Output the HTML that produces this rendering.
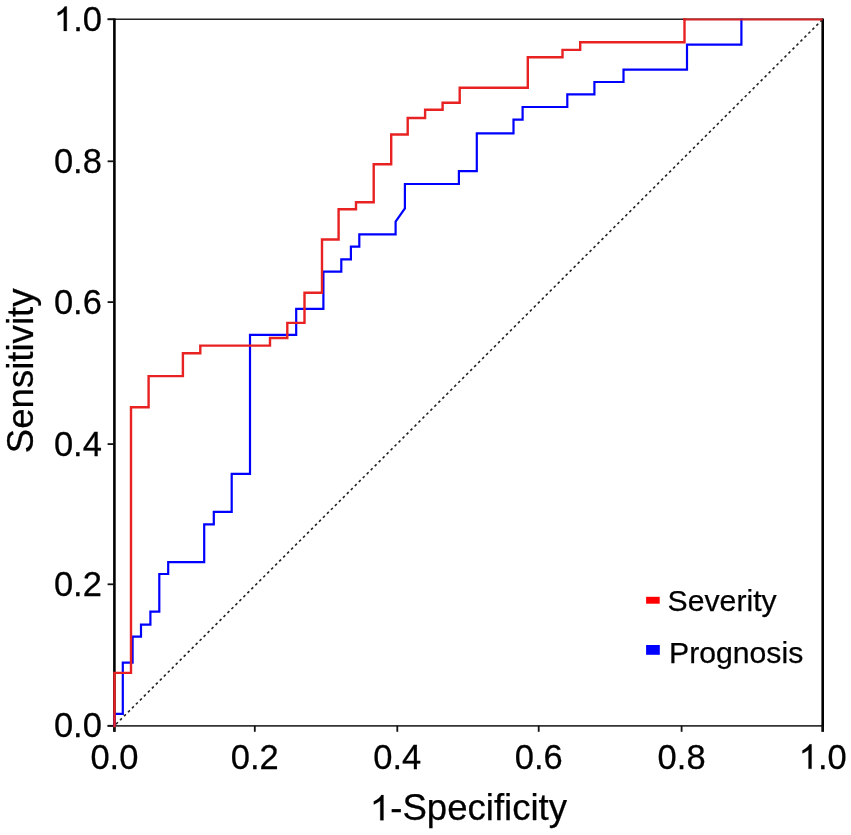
<!DOCTYPE html>
<html><head><meta charset="utf-8"><style>
html,body{margin:0;padding:0;background:#fff;}
svg{display:block;will-change:transform;font-family:"Liberation Sans",sans-serif;fill:#000;}
text{fill:#000;stroke:#000;stroke-width:0.25px;}
path.g1{stroke:#000;stroke-width:0.25px;}
</style></head><body>
<svg width="851" height="835" viewBox="0 0 851 835">
<rect width="851" height="835" fill="#fff"/>
<line x1="107.60000000000001" y1="19.3" x2="822.7" y2="19.3" stroke="#222" stroke-width="1.5"/>
<line x1="107.60000000000001" y1="725.8" x2="822.7" y2="725.8" stroke="#333" stroke-width="1.8"/>
<line x1="114.4" y1="18.6" x2="114.4" y2="731.8" stroke="#000" stroke-width="2.6"/>
<line x1="822.7" y1="18.6" x2="822.7" y2="731.8" stroke="#000" stroke-width="2.6"/>
<line x1="107.60000000000001" y1="725.80" x2="114.4" y2="725.80" stroke="#111" stroke-width="1.8"/>
<line x1="114.40" y1="725.8" x2="114.40" y2="731.8" stroke="#111" stroke-width="1.8"/>
<line x1="107.60000000000001" y1="584.30" x2="114.4" y2="584.30" stroke="#111" stroke-width="1.8"/>
<line x1="254.80" y1="725.8" x2="254.80" y2="731.8" stroke="#111" stroke-width="1.8"/>
<line x1="107.60000000000001" y1="444.10" x2="114.4" y2="444.10" stroke="#111" stroke-width="1.8"/>
<line x1="397.30" y1="725.8" x2="397.30" y2="731.8" stroke="#111" stroke-width="1.8"/>
<line x1="107.60000000000001" y1="302.10" x2="114.4" y2="302.10" stroke="#111" stroke-width="1.8"/>
<line x1="538.70" y1="725.8" x2="538.70" y2="731.8" stroke="#111" stroke-width="1.8"/>
<line x1="107.60000000000001" y1="161.30" x2="114.4" y2="161.30" stroke="#111" stroke-width="1.8"/>
<line x1="681.60" y1="725.8" x2="681.60" y2="731.8" stroke="#111" stroke-width="1.8"/>
<line x1="107.60000000000001" y1="19.30" x2="114.4" y2="19.30" stroke="#111" stroke-width="1.8"/>
<line x1="822.70" y1="725.8" x2="822.70" y2="731.8" stroke="#111" stroke-width="1.8"/>
<line x1="114.4" y1="725.8" x2="822.7" y2="19.3" stroke="#222" stroke-width="1.6" stroke-dasharray="2.6 3.02" stroke-dashoffset="-2.37"/>
<polyline points="114.5,726.0 114.5,713.8 122.8,713.8 122.8,662.6 132.6,662.6 132.6,636.7 141.0,636.7 141.0,624.6 150.4,624.6 150.4,611.7 159.3,611.7 159.3,574.0 168.2,574.0 168.2,562.1 204.2,562.1 204.2,524.4 213.8,524.4 213.8,511.9 231.7,511.9 231.7,473.8 250.0,473.8 250.0,334.8 296.2,334.8 296.2,308.8 323.4,308.8 323.4,271.6 341.3,271.6 341.3,259.3 350.9,259.3 350.9,246.7 359.3,246.7 359.3,234.4 395.6,234.4 395.6,221.7 404.9,208.5 404.9,184.0 458.9,184.0 458.9,171.1 476.8,171.1 476.8,133.3 513.5,133.3 513.5,119.6 522.6,119.6 522.6,107.0 567.3,107.0 567.3,94.3 594.4,94.3 594.4,82.0 623.5,82.0 623.5,69.7 687.0,69.7 687.0,44.6 741.4,44.6 741.4,19.6" fill="none" stroke="#0000ff" stroke-width="2.2" stroke-linejoin="miter" stroke-linecap="square"/>
<polyline points="114.5,726.0 114.5,672.9 131.0,672.9 131.0,407.2 148.6,407.2 148.6,376.1 182.9,376.1 182.9,353.2 200.3,353.2 200.3,345.6 270.0,345.6 270.0,338.0 287.3,338.0 287.3,322.9 304.5,322.9 304.5,292.8 322.0,292.8 322.0,239.5 338.6,239.5 338.6,209.2 356.0,209.2 356.0,202.2 373.7,202.2 373.7,164.2 391.2,164.2 391.2,134.5 407.7,134.5 407.7,118.0 425.1,118.0 425.1,109.7 442.6,109.7 442.6,102.8 459.7,102.8 459.7,87.7 527.8,87.7 527.8,57.2 562.5,57.2 562.5,49.9 580.2,49.9 580.2,42.2 684.5,42.2 684.5,19.3" fill="none" stroke="#e82222" stroke-width="2.4" stroke-linejoin="miter" stroke-linecap="square"/>
<line x1="683.3" y1="19.400000000000002" x2="822.7" y2="19.400000000000002" stroke="#d42020" stroke-width="2.0"/>
<text transform="translate(114.40,768.8) scale(1,1.03)" font-size="34.5" text-anchor="middle">0.0</text>
<text transform="translate(101.9,737.40) scale(1,1.03)" font-size="34.5" text-anchor="end">0.0</text>
<text transform="translate(254.80,768.8) scale(1,1.03)" font-size="34.5" text-anchor="middle">0.2</text>
<text transform="translate(101.9,595.90) scale(1,1.03)" font-size="34.5" text-anchor="end">0.2</text>
<text transform="translate(397.30,768.8) scale(1,1.03)" font-size="34.5" text-anchor="middle">0.4</text>
<text transform="translate(101.9,455.70) scale(1,1.03)" font-size="34.5" text-anchor="end">0.4</text>
<text transform="translate(538.70,768.8) scale(1,1.03)" font-size="34.5" text-anchor="middle">0.6</text>
<text transform="translate(101.9,313.70) scale(1,1.03)" font-size="34.5" text-anchor="end">0.6</text>
<text transform="translate(681.60,768.8) scale(1,1.03)" font-size="34.5" text-anchor="middle">0.8</text>
<text transform="translate(101.9,172.90) scale(1,1.03)" font-size="34.5" text-anchor="end">0.8</text>
<path class="g1" vector-effect="non-scaling-stroke" transform="translate(798.72,768.80) scale(0.016846,-0.017351)" d="M763 0L583 0L583 1098Q518 1039 412 979Q306 920 221 890L221 1057Q372 1125 485 1221Q598 1318 645 1409L763 1409Z"/><text transform="translate(817.91,768.80) scale(1,1.03)" font-size="34.5">.0</text>
<path class="g1" vector-effect="non-scaling-stroke" transform="translate(53.94,30.90) scale(0.016846,-0.017351)" d="M763 0L583 0L583 1098Q518 1039 412 979Q306 920 221 890L221 1057Q372 1125 485 1221Q598 1318 645 1409L763 1409Z"/><text transform="translate(73.13,30.90) scale(1,1.03)" font-size="34.5">.0</text>
<path class="g1" vector-effect="non-scaling-stroke" transform="translate(369.85,820.30) scale(0.017871,-0.017871)" d="M763 0L583 0L583 1098Q518 1039 412 979Q306 920 221 890L221 1057Q372 1125 485 1221Q598 1318 645 1409L763 1409Z"/><text transform="translate(390.21,820.30) scale(1,1.0)" font-size="36.6">-Specificity</text>
<text transform="translate(32.7,370.85) rotate(-90)" x="0" y="0" font-size="36.6" text-anchor="middle">Sensitivity</text>
<rect x="646.1" y="596.8" width="13.6" height="6.9" fill="#ff0000"/>
<rect x="646.1" y="645" width="13.7" height="9.8" fill="#0000ff"/>
<text x="667.6" y="610.9" font-size="30.2">Severity</text>
<text x="669" y="663.2" font-size="30.2">Prognosis</text>
</svg>
</body></html>
